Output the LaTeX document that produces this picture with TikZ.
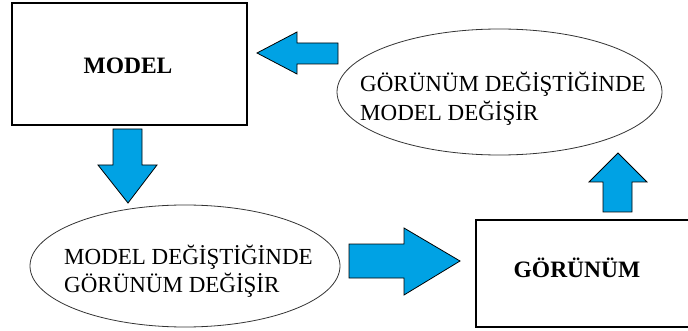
\documentclass[tikz,border=0pt]{standalone}
\usepackage{fontspec}
\setmainfont{Liberation Serif}
\usetikzlibrary{shapes.geometric}
\definecolor{arrowblue}{RGB}{0,162,228}
\tikzset{
  boxnode/.style={draw=black, line width=1.2pt, inner sep=0pt},
  ovalnode/.style={draw=black!80, line width=0.8pt, ellipse, inner sep=0pt},
  blockarrow/.style={fill=arrowblue, draw=black, line width=0.8pt, line join=miter},
  txt/.style={font=\fontsize{23}{29}\selectfont, inner sep=0pt, anchor=base west},
  boldtxt/.style={font=\fontsize{23.5}{29}\selectfont\bfseries, inner sep=0pt, anchor=base},
}
\begin{document}
\begin{tikzpicture}[x=1pt,y=-1pt]
\useasboundingbox (0,0) rectangle (688,331);
% boxes
\node[boxnode, minimum width=235pt, minimum height=122pt] (model) at (129.5,64) {};
\node[boldtxt] (modeltxt) at (128,74) {MODEL};
\node[boxnode, minimum width=216pt, minimum height=107pt] (view) at (584,273.5) {};
\node[boldtxt] (viewtxt) at (577,277) {GÖRÜNÜM};
% ellipses
\node[ovalnode, minimum width=325pt, minimum height=126pt] (topoval) at (499.5,92) {};
\node[txt] (toptxta) at (360,92) {GÖRÜNÜM DEĞİŞTİĞİNDE};
\node[txt] (toptxtb) at (360,121) {MODEL DEĞİŞİR};
\node[ovalnode, minimum width=310pt, minimum height=122pt] (botoval) at (185,266) {};
\node[txt] (bottxta) at (64,264) {MODEL DEĞİŞTİĞİNDE};
\node[txt] (bottxtb) at (64,292) {GÖRÜNÜM DEĞİŞİR};
% block arrows
\draw[blockarrow] (257,53) -- (297,32) -- (297,43) -- (338,43) -- (338,64) -- (297,64) -- (297,74) -- cycle;
\draw[blockarrow] (128,203) -- (98,165) -- (113,165) -- (113,129) -- (142,129) -- (142,165) -- (157,165) -- cycle;
\draw[blockarrow] (460,261) -- (404,228) -- (404,244) -- (349,244) -- (349,278) -- (404,278) -- (404,295) -- cycle;
\draw[blockarrow] (618,153) -- (589,182) -- (603,182) -- (603,212) -- (632,212) -- (632,182) -- (647,182) -- cycle;
\end{tikzpicture}
\end{document}
